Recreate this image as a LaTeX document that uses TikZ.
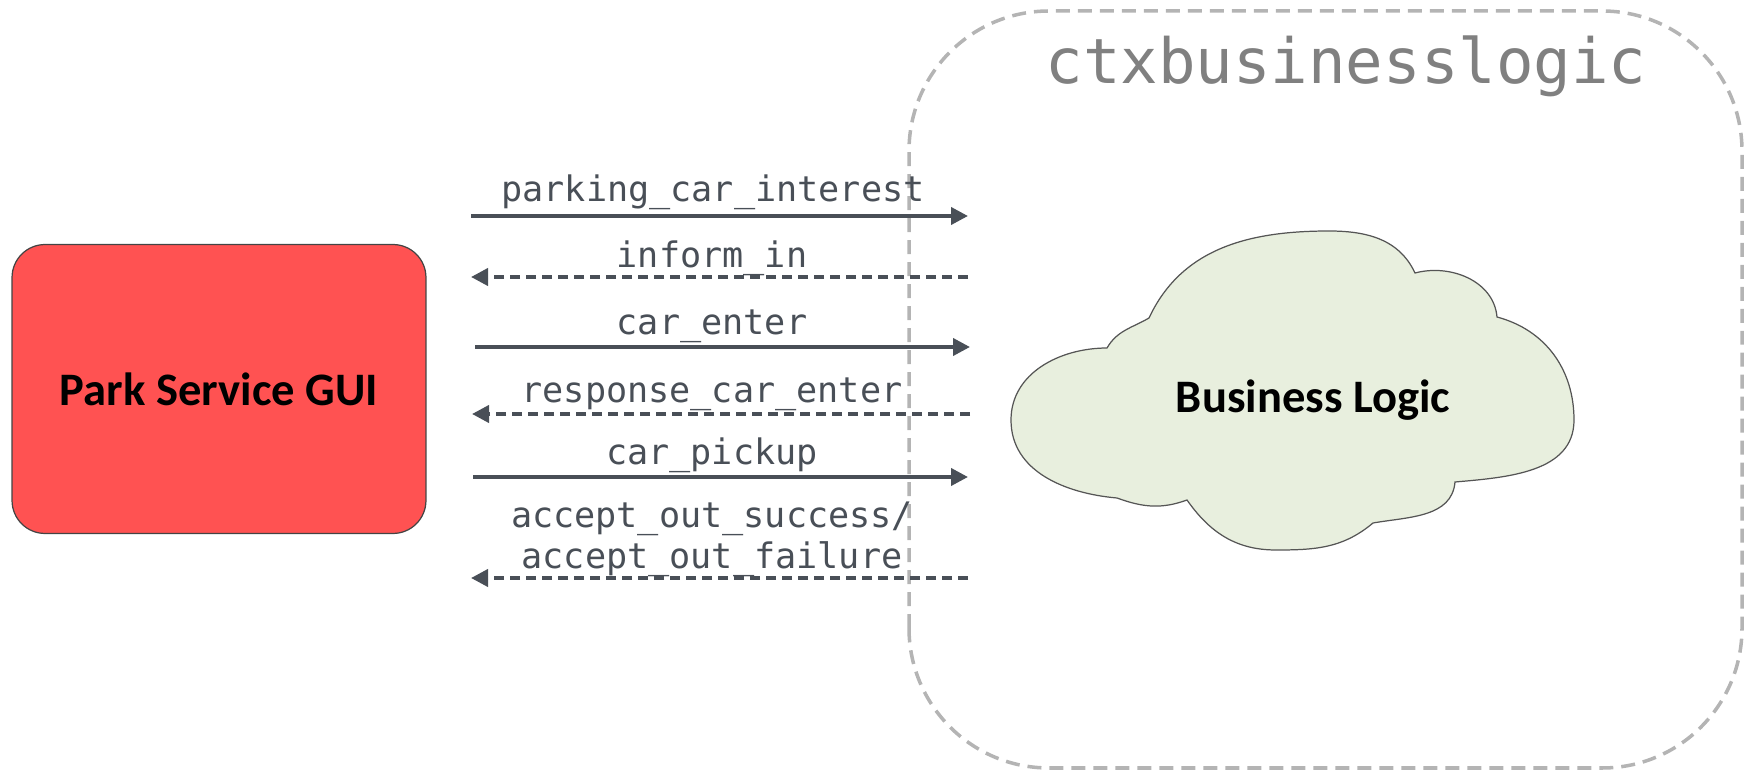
\documentclass[tikz,border=0pt]{standalone}
\usepackage{fontspec}
\usepackage{xcolor}
\usepackage{tikz}
\usetikzlibrary{arrows.meta}
\usetikzlibrary{positioning}
\newfontfamily\msgfont{DejaVu Sans Mono}
\newfontfamily\guifont{Carlito}
\definecolor{msggray}{RGB}{73,79,87}
\definecolor{guired}{RGB}{255,82,82}
\definecolor{guiline}{RGB}{68,68,68}
\definecolor{cloudgreen}{RGB}{232,239,222}
\definecolor{cloudline}{RGB}{85,85,85}
\definecolor{ctxgray}{RGB}{180,180,180}
\definecolor{titlegray}{RGB}{128,128,128}

\begin{document}
\begin{tikzpicture}[x=0.02cm,y=0.02cm,
	msg/.style={msggray,line width=2.2pt,-{Triangle[length=0.34cm,width=0.34cm]}},
	reply/.style={msg,dash pattern=on 0.2cm off 0.12cm},
	lbl/.style={msggray,inner sep=0pt,anchor=base,align=center,font=\msgfont\fontsize{20}{23.3}\selectfont}]
	\useasboundingbox (0,0) rectangle (1751,778);

	% business logic context
	\draw[ctxgray,line width=2pt,dash pattern=on 0.28cm off 0.16cm,rounded corners=2.8cm] (909,10) rectangle (1742,767);
	\node [anchor=base,inner sep=0pt,titlegray,font=\msgfont\fontsize{35.5}{40}\selectfont] (ctxtitle) at (1346,694) {ctxbusinesslogic};

	\node [draw=guiline,fill=guired,line width=0.7pt,rounded corners=0.66cm,minimum width=8.28cm,minimum height=5.78cm,font=\guifont\bfseries\fontsize{26.5}{30}\selectfont] (gui) at (219,389) {Park Service GUI};

	\coordinate [] (A) at (1149,460);
	\coordinate [] (T) at (1329,547);
	\coordinate [] (B) at (1415,505);
	\coordinate [] (C) at (1497,461);
	\coordinate [] (R) at (1574,358);
	\coordinate [] (D) at (1455,296);
	\coordinate [] (E) at (1373,255);
	\coordinate [] (Bot) at (1276,228);
	\coordinate [] (F) at (1187,278);
	\coordinate [] (G) at (1117,280);
	\coordinate [] (L) at (1011,358);
	\coordinate [] (H) at (1107,430);
	\draw[cloudline,fill=cloudgreen,line width=0.7pt] (A) to[out=65,in=180] (T) to[out=0,in=115] (B) to[out=15,in=95] (C) to[out=-15,in=90] (R) to[out=-90,in=5] (D) to[out=-95,in=10] (E) to[out=-140,in=0] (Bot) to[out=180,in=-55] (F) to[out=-160,in=-20] (G) to[out=175,in=-90] (L) to[out=90,in=180] (H) to[out=60,in=210] (A) -- cycle;
	\node [inner sep=0pt,font=\guifont\bfseries\fontsize{26.5}{30}\selectfont] (logic) at (1313,378) {Business Logic};

	% messages
	\coordinate [] (m1a) at (471,562);
	\coordinate [] (m1b) at (968,562);
	\coordinate [] (m2a) at (968,501);
	\coordinate [] (m2b) at (471,501);
	\coordinate [] (m3a) at (475,431);
	\coordinate [] (m3b) at (970,431);
	\coordinate [] (m4a) at (970,364);
	\coordinate [] (m4b) at (472,364);
	\coordinate [] (m5a) at (473,301);
	\coordinate [] (m5b) at (968,301);
	\coordinate [] (m6a) at (968,200);
	\coordinate [] (m6b) at (471,200);

	\draw[msg] (m1a)--(m1b);
	\draw[reply] (m2a)--(m2b);
	\draw[msg] (m3a)--(m3b);
	\draw[reply] (m4a)--(m4b);
	\draw[msg] (m5a)--(m5b);
	\draw[reply] (m6a)--(m6b);

	\node [lbl] (l1) at (713,576) {parking\_car\_interest};
	\node [lbl] (l2) at (712,510) {inform\_in};
	\node [lbl] (l3) at (712,443) {car\_enter};
	\node [lbl] (l4) at (712,375) {response\_car\_enter};
	\node [lbl] (l5) at (712,313) {car\_pickup};
	% the base of a two line node is its last line
	\node [lbl] (l6) at (712,210) {accept\_out\_success/\\accept\_out\_failure};
\end{tikzpicture}
\end{document}
